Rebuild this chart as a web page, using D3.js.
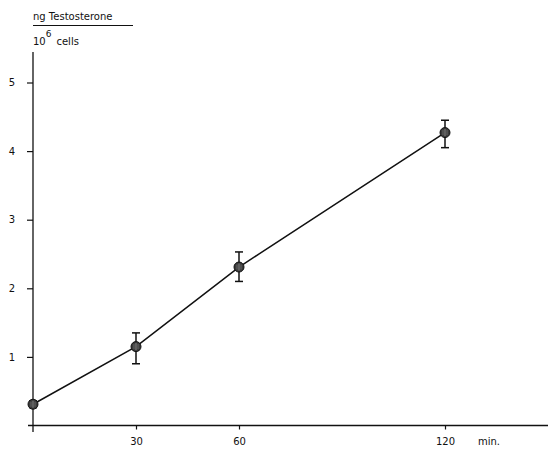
<!DOCTYPE html>
<html>
<head>
<meta charset="utf-8">
<script src="https://cdn.jsdelivr.net/npm/d3@7"></script>
<style>
  body { margin: 0; background: #fff; }
  text { font-family: "DejaVu Sans", sans-serif; fill: #111; }
</style>
</head>
<body>
<div id="chart"></div>
<script>
// data
var minutes = [0, 30, 60, 120];
var testo = [0.31, 1.15, 2.31, 4.27];
var errHi = [0.36, 1.35, 2.53, 4.45];
var errLo = [0.26, 0.90, 2.10, 4.05];
var yTicks = [1, 2, 3, 4, 5];
var xTicks = [30, 60, 120];

var W = 548, H = 452;
var svg = d3.select("#chart").append("svg").attr("width", W).attr("height", H);

var x = d3.scaleLinear().domain([0, 150]).range([33, 548]);
var y = d3.scaleLinear().domain([0, 5]).range([425.5, 82.5]);

// axes lines
svg.append("line").attr("x1", 28).attr("x2", 548).attr("y1", y(0)).attr("y2", y(0))
  .attr("stroke", "#111").attr("stroke-width", 1.3);
svg.append("line").attr("x1", x(0)).attr("x2", x(0)).attr("y1", 52).attr("y2", 432)
  .attr("stroke", "#111").attr("stroke-width", 1.3);

var yAxis = svg.append("g").attr("transform", "translate(" + x(0) + ",0)")
  .call(d3.axisLeft(y).tickValues(yTicks).tickSize(6).tickPadding(12).tickFormat(d3.format("d")));
yAxis.select(".domain").remove();
yAxis.selectAll("line").attr("stroke", "#111").attr("stroke-width", 1.2);
yAxis.selectAll("text").style("font-size", "10px").attr("fill", "#111");

var xAxis = svg.append("g").attr("transform", "translate(0," + y(0) + ")")
  .call(d3.axisBottom(x).tickValues(xTicks).tickSize(4).tickPadding(8).tickFormat(d3.format("d")));
xAxis.select(".domain").remove();
xAxis.selectAll("line").attr("stroke", "#111").attr("stroke-width", 1.2);
xAxis.selectAll("text").style("font-size", "10px").attr("fill", "#111");

svg.append("text").attr("x", 478).attr("y", 445).style("font-size", "10px").text("min.");

// unit label
svg.append("text").attr("x", 33).attr("y", 20).style("font-size", "10px").text("ng Testosterone");
svg.append("line").attr("x1", 33).attr("x2", 133).attr("y1", 25.5).attr("y2", 25.5)
  .attr("stroke", "#111").attr("stroke-width", 1.2);
var lab = svg.append("text").attr("x", 33).attr("y", 45).style("font-size", "10px");
lab.append("tspan").text("10");
lab.append("tspan").attr("dy", -8).style("font-size", "9px").text("6");
lab.append("tspan").attr("dy", 8).attr("dx", 5).text("cells");

var pts = minutes.map(function(m, i) { return {m: m, v: testo[i], hi: errHi[i], lo: errLo[i]}; });

var line = d3.line().x(function(d) { return x(d.m); }).y(function(d) { return y(d.v); });
svg.append("path").datum(pts).attr("d", line).attr("fill", "none")
  .attr("stroke", "#111").attr("stroke-width", 1.5);

// error bars
var eb = svg.selectAll(".eb").data(pts).enter().append("g").attr("class", "eb");
eb.append("line").attr("x1", function(d) { return x(d.m); }).attr("x2", function(d) { return x(d.m); })
  .attr("y1", function(d) { return y(d.hi); }).attr("y2", function(d) { return y(d.lo); })
  .attr("stroke", "#111").attr("stroke-width", 1.5);
eb.selectAll(".cap").data(function(d) { return [[d.m, d.hi], [d.m, d.lo]]; }).enter().append("line")
  .attr("x1", function(d) { return x(d[0]) - 4; }).attr("x2", function(d) { return x(d[0]) + 4; })
  .attr("y1", function(d) { return y(d[1]); }).attr("y2", function(d) { return y(d[1]); })
  .attr("stroke", "#111").attr("stroke-width", 1.5);

// markers
var mk = svg.selectAll(".mk").data(pts).enter().append("g").attr("class", "mk")
  .attr("transform", function(d) { return "translate(" + x(d.m) + "," + y(d.v) + ")"; });
mk.append("circle").attr("r", 5).attr("fill", "#3a3a3a").attr("stroke", "#111").attr("stroke-width", 1);
mk.append("line").attr("x1", 0).attr("x2", 0).attr("y1", -3.5).attr("y2", 3.5).attr("stroke", "#999").attr("stroke-width", 0.8);
mk.append("line").attr("x1", -2).attr("x2", -2).attr("y1", -2.5).attr("y2", 2.5).attr("stroke", "#888").attr("stroke-width", 0.6);
mk.append("line").attr("x1", 2).attr("x2", 2).attr("y1", -2.5).attr("y2", 2.5).attr("stroke", "#888").attr("stroke-width", 0.6);
</script>
</body>
</html>
